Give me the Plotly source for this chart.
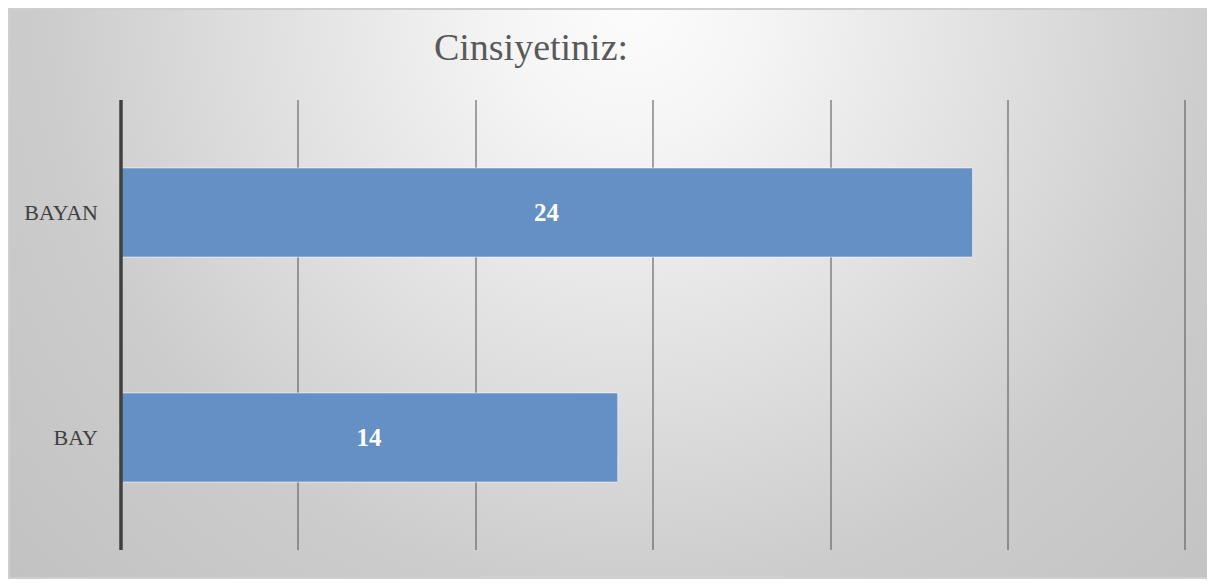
import base64
import plotly.graph_objects as go

# ---- data ----
categories = ["BAY", "BAYAN"]
values = [14, 24]
title_text = "Cinsiyetiniz:"
x_max = 30
x_dtick = 5

# ---- layout constants (pixels, figure coordinates; page adds an 8px body margin) ----
OFF = 8
W, H = 1215 - OFF, 583 - OFF
AX_L, AX_R = 121 - OFF, 1185 - OFF        # x=0 and x=30 positions
PLOT_T, PLOT_B = 100 - OFF, 550 - OFF
RANGE_MAX = x_max + 0.1
PW = (AX_R - AX_L) * RANGE_MAX / x_max
ML, MT = AX_L, PLOT_T
MR = W - ML - PW
MB = H - PLOT_B
PH = PLOT_B - PLOT_T
BOX_L, BOX_R, BOX_T, BOX_B = 1, 1208 - OFF, 1, 578 - OFF

def px_to_paper_x(px):
    return (px - ML) / PW

def px_to_paper_y(py):
    return 1 - (py - MT) / PH

bw, bh = BOX_R - BOX_L, BOX_B - BOX_T
svg = f'''<svg xmlns="http://www.w3.org/2000/svg" width="{bw}" height="{bh}" viewBox="0 0 {bw} {bh}" preserveAspectRatio="none">
<defs><radialGradient id="g" gradientUnits="userSpaceOnUse" cx="{bw*0.52}" cy="0" r="840">
<stop offset="0" stop-color="#fcfcfc"/>
<stop offset="0.15" stop-color="#f5f5f5"/>
<stop offset="0.45" stop-color="#dfdfdf"/>
<stop offset="0.7" stop-color="#cccccc"/>
<stop offset="1" stop-color="#c2c2c2"/>
</radialGradient></defs>
<rect x="0" y="0" width="{bw}" height="{bh}" fill="url(#g)"/>
</svg>'''
svg_uri = "data:image/svg+xml;base64," + base64.b64encode(svg.encode()).decode()

fig = go.Figure()
fig.add_trace(go.Bar(
    x=values,
    y=categories,
    orientation="h",
    marker=dict(color="#6590c5", line=dict(color="rgba(255,255,255,0.55)", width=1)),
    text=[str(v) for v in values],
    textposition="inside",
    insidetextanchor="middle",
    textfont=dict(family="Liberation Serif", size=25, color="white", weight="bold"),
    hoverinfo="skip",
))

fig.update_layout(
    width=W, height=H,
    margin=dict(l=ML, r=MR, t=MT, b=MB, pad=0),
    paper_bgcolor="white",
    plot_bgcolor="rgba(0,0,0,0)",
    bargap=0.604,
    showlegend=False,
    title=dict(
        text=title_text,
        font=dict(family="Liberation Serif", size=38, color="#595959"),
        x=(531 - OFF) / W, xanchor="center", xref="container",
        y=1 - (47 - OFF) / H, yanchor="middle", yref="container",
    ),
    xaxis=dict(
        range=[0, RANGE_MAX], dtick=x_dtick, tick0=0,
        showgrid=True, gridcolor="rgba(80,80,80,0.5)", gridwidth=1.5,
        showticklabels=False, zeroline=False, showline=False, ticks="",
    ),
    yaxis=dict(
        showline=False,
        showgrid=False, zeroline=False, ticks="",
        tickfont=dict(family="Liberation Serif", size=22, color="#404040"),
        ticklabelstandoff=22,
    ),
    images=[dict(
        source=svg_uri, xref="paper", yref="paper",
        x=px_to_paper_x(BOX_L), y=px_to_paper_y(BOX_T),
        sizex=(BOX_R - BOX_L) / PW, sizey=(BOX_B - BOX_T) / PH,
        xanchor="left", yanchor="top", sizing="stretch", layer="below",
    )],
    shapes=[
        dict(
            type="rect", xref="paper", yref="paper",
            x0=px_to_paper_x(BOX_L), x1=px_to_paper_x(BOX_R),
            y0=px_to_paper_y(BOX_B), y1=px_to_paper_y(BOX_T),
            line=dict(color="#cfcfcf", width=2), layer="below",
        ),
        dict(
            type="line", xref="paper", yref="paper",
            x0=0, x1=0, y0=0, y1=1,
            line=dict(color="#404040", width=3.5), layer="above",
        ),
    ],
)

fig.write_html("out.html")
